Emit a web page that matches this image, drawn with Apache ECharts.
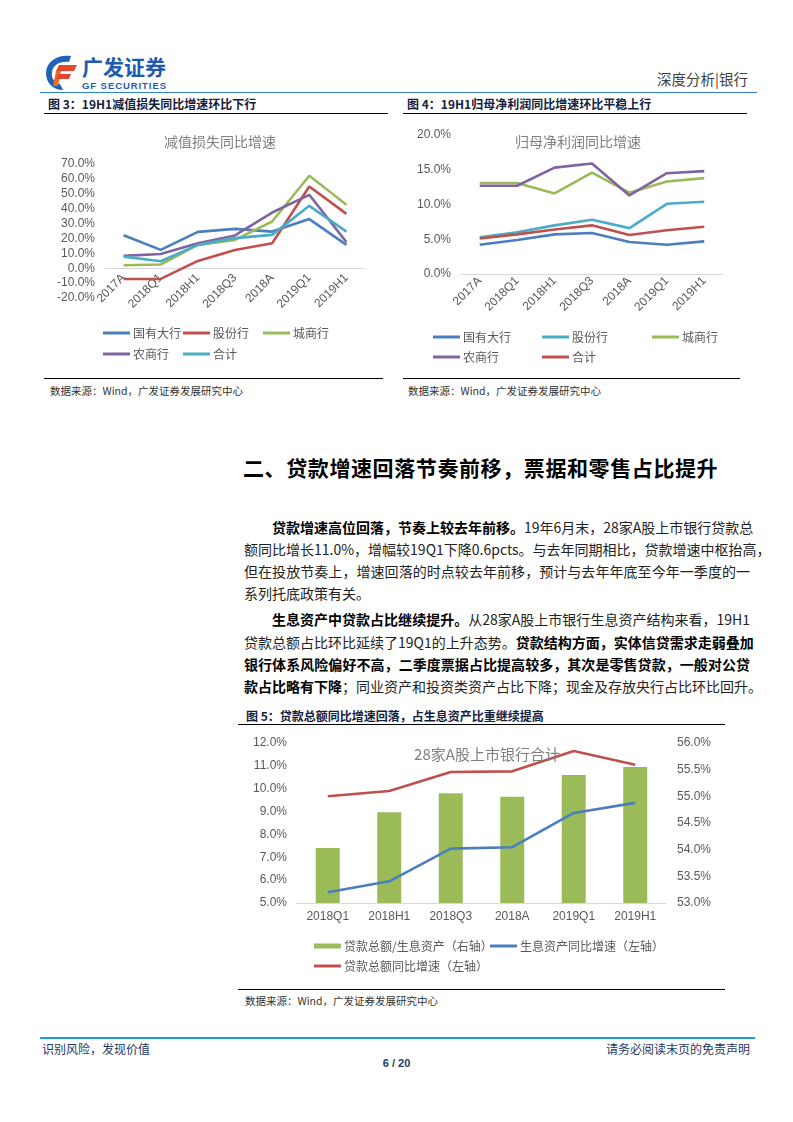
<!DOCTYPE html>
<html>
<head>
<meta charset="utf-8">
<script src="https://cdn.jsdelivr.net/npm/echarts@6.0.0/dist/echarts.min.js"></script>
<style>
  body { margin:0; width:793px; height:1122px; background:#fff; position:relative; font-family:"Noto Sans CJK SC", sans-serif; overflow:hidden; }
  .abs { position:absolute; }
  .hr { position:absolute; height:0; }
  .figtitle { position:absolute; font-size:12px; font-weight:bold; color:#14213d; white-space:nowrap; }
  .src { position:absolute; font-size:10.5px; color:#333; white-space:nowrap; }
  .line { position:absolute; left:244px; width:506px; font-size:14px; line-height:22px; color:#222; text-align:justify; text-align-last:justify; white-space:nowrap; }
  .line.last { text-align-last:left; }
  .line b { color:#000; }
  #chart3, #chart4, #chart5 { position:absolute; }
</style>
</head>
<body>

<!-- header -->
<svg class="abs" style="left:44px;top:53px" width="130" height="40">
  <path d="M27,3 C13,1 2,9 2,20 C2,30 9,37 19,37 L16,31 C10,29 7,25 8,19 C9,12 16,8 25,9 Z" fill="#1e63b8"/>
  <path d="M15,12 L33,12 L30,18 L12,18 Z" fill="#e8452c"/>
  <path d="M12,18 L17,18 L14,33 L9,33 Z" fill="#f06a2a"/>
  <path d="M14,21 L27,21 L25,26 L12,26 Z" fill="#e8452c"/>
  <text x="38" y="22" font-size="21" font-weight="bold" fill="#1e5bb0" font-family="Noto Sans CJK SC">广发证券</text>
  <text x="38" y="36" font-size="9.5" font-weight="bold" fill="#1e5bb0" font-family="Liberation Sans" textLength="84">GF SECURITIES</text>
</svg>
<div class="abs" style="right:45px;top:68px;font-size:14.5px;color:#404040;">深度分析|银行</div>
<div class="hr" style="left:40px;width:717px;top:92px;border-top:1.5px solid #2f84d6;"></div>

<!-- figure titles top -->
<div class="figtitle" style="left:48px;top:95px;">图 3：19H1减值损失同比增速环比下行</div>
<div class="hr" style="left:44px;width:344px;top:113px;border-top:1.5px solid #000;"></div>
<div class="figtitle" style="left:407px;top:95px;">图 4：19H1归母净利润同比增速环比平稳上行</div>
<div class="hr" style="left:403px;width:344px;top:113px;border-top:1.5px solid #000;"></div>

<div id="chart3" style="left:40px;top:120px;width:350px;height:250px;"></div>
<div id="chart4" style="left:400px;top:120px;width:360px;height:250px;"></div>

<div class="hr" style="left:44px;width:339px;top:378px;border-top:1.5px solid #000;"></div>
<div class="src" style="left:50px;top:383px;">数据来源：Wind，广发证券发展研究中心</div>
<div class="hr" style="left:403px;width:337px;top:378px;border-top:1.5px solid #000;"></div>
<div class="src" style="left:408px;top:383px;">数据来源：Wind，广发证券发展研究中心</div>

<!-- section -->
<div class="abs" style="left:243px;top:452px;font-size:21px;font-weight:bold;color:#000;letter-spacing:0.6px;white-space:nowrap;">二、贷款增速回落节奏前移，票据和零售占比提升</div>

<div class="line" style="top:516px;padding-left:28px;width:478px;"><b>贷款增速高位回落，节奏上较去年前移。</b>19年6月末，28家A股上市银行贷款总</div>
<div class="line" style="top:538px;">额同比增长11.0%，增幅较19Q1下降0.6pcts。与去年同期相比，贷款增速中枢抬高，</div>
<div class="line" style="top:560px;">但在投放节奏上，增速回落的时点较去年前移，预计与去年年底至今年一季度的一</div>
<div class="line last" style="top:582px;">系列托底政策有关。</div>

<div class="line" style="top:608px;padding-left:28px;width:478px;"><b>生息资产中贷款占比继续提升。</b>从28家A股上市银行生息资产结构来看，19H1</div>
<div class="line" style="top:631px;">贷款总额占比环比延续了19Q1的上升态势。<b>贷款结构方面，实体信贷需求走弱叠加</b></div>
<div class="line" style="top:653px;"><b>银行体系风险偏好不高，二季度票据占比提高较多，其次是零售贷款，一般对公贷</b></div>
<div class="line" style="top:675px;"><b>款占比略有下降</b>；同业资产和投资类资产占比下降；现金及存放央行占比环比回升。</div>

<div class="figtitle" style="left:246px;top:707px;">图 5：贷款总额同比增速回落，占生息资产比重继续提高</div>
<div class="hr" style="left:238px;width:487px;top:724px;border-top:1.5px solid #000;"></div>

<div id="chart5" style="left:230px;top:730px;width:530px;height:250px;"></div>

<div class="hr" style="left:238px;width:487px;top:989px;border-top:1.5px solid #000;"></div>
<div class="src" style="left:245px;top:993px;">数据来源：Wind，广发证券发展研究中心</div>

<!-- footer -->
<div class="hr" style="left:40px;width:715px;top:1037px;border-top:2px solid #1a9be0;"></div>
<div class="abs" style="left:42px;top:1040px;font-size:12px;color:#1f3864;">识别风险，发现价值</div>
<div class="abs" style="right:43px;top:1040px;font-size:12px;color:#1f3864;">请务必阅读末页的免责声明</div>
<div class="abs" style="left:0;width:793px;text-align:center;top:1057px;font-size:11px;font-weight:bold;color:#1f3864;font-family:'Liberation Sans';">6 / 20</div>

<script>
  // ---- 数据 ----
  var periods7 = ['2017A','2018Q1','2018H1','2018Q3','2018A','2019Q1','2019H1'];
  // 图3 减值损失同比增速 (%)
  var impairStateBig = [22.2, 12.3, 24.4, 26.4, 24.6, 33.0, 15.7];
  var impairJointStock = [-7.2, -7.2, 4.9, 12.3, 16.8, 54.9, 36.5];
  var impairCity = [2.0, 2.5, 15.7, 19.0, 31.4, 62.1, 42.6];
  var impairRural = [8.3, 9.6, 16.8, 22.0, 37.4, 49.3, 17.5];
  var impairTotal = [7.8, 4.7, 15.7, 20.2, 22.4, 41.9, 24.6];
  // 图4 归母净利润同比增速 (%)
  var profitStateBig = [4.2, 4.9, 5.7, 5.9, 4.6, 4.2, 4.7];
  var profitJointStock = [5.3, 6.0, 7.0, 7.8, 6.6, 10.1, 10.4];
  var profitCity = [13.1, 13.1, 11.6, 14.6, 11.7, 13.3, 13.8];
  var profitRural = [12.7, 12.7, 15.3, 15.9, 11.3, 14.5, 14.8];
  var profitTotal = [5.1, 5.7, 6.4, 7.0, 5.6, 6.3, 6.8];
  // 图5 28家A股上市银行合计
  var periods6 = ['2018Q1','2018H1','2018Q3','2018A','2019Q1','2019H1'];
  var loanShare = [54.03, 54.70, 55.06, 54.99, 55.40, 55.55];   // 贷款总额/生息资产（右轴）
  var assetGrowth = [5.47, 5.95, 7.38, 7.44, 8.94, 9.38];     // 生息资产同比增速（左轴）
  var loanGrowth = [9.67, 9.90, 10.73, 10.76, 11.65, 11.05];  // 贷款总额同比增速（左轴）

  var C_BLUE = '#4a7ebf', C_RED = '#c0504d', C_GREEN = '#9bbb59', C_PURPLE = '#8064a2', C_CYAN = '#4bacc6';
  var labelColor = '#595959';
  var cjk = 'Noto Sans CJK SC';

  function pct1(v) { return v.toFixed(1) + '%'; }

  function lineSeries(name, data, color, axisIdx) {
    return {
      name: name, type: 'line', data: data, yAxisIndex: axisIdx || 0,
      symbol: 'none', lineStyle: { color: color, width: 2.6 }, itemStyle: { color: color },
      animation: false
    };
  }

  function oneLegend(name, left, top, icon, h) {
    return {
      data: [name], left: left, top: top, icon: icon || 'rect',
      itemWidth: 27, itemHeight: h || 3, itemGap: 0,
      textStyle: { color: labelColor, fontSize: 12, fontFamily: cjk, padding: [0, 0, 0, -2] }
    };
  }

  function smallLineChart(el, title, titleX, grid, yMin, yMax, yInt, labelMargin, series, legends) {
    var c = echarts.init(el);
    c.setOption({
      animation: false,
      title: { text: title, left: titleX, top: 10, textAlign: 'center',
        textStyle: { color: '#7f7f7f', fontSize: 14, fontWeight: 'normal', fontFamily: cjk } },
      grid: grid,
      legend: legends,
      xAxis: {
        type: 'category', data: periods7, boundaryGap: true,
        axisLine: { onZero: true, lineStyle: { color: '#d9d9d9', width: 1 } },
        axisTick: { show: false },
        axisLabel: { rotate: 45, color: labelColor, fontSize: 12, fontFamily: 'Liberation Sans', margin: labelMargin, interval: 0 }
      },
      yAxis: {
        type: 'value', min: yMin, max: yMax, interval: yInt,
        axisLine: { show: false }, axisTick: { show: false }, splitLine: { show: false },
        axisLabel: { formatter: pct1, color: labelColor, fontSize: 12, fontFamily: 'Liberation Sans', margin: 10 }
      },
      series: series
    });
    return c;
  }

  smallLineChart(document.getElementById('chart3'), '减值损失同比增速', 175,
    { left: 65, right: 25, top: 44, height: 134 }, -20, 70, 10, -22,
    [
      lineSeries('国有大行', impairStateBig, C_BLUE),
      lineSeries('股份行', impairJointStock, C_RED),
      lineSeries('城商行', impairCity, C_GREEN),
      lineSeries('农商行', impairRural, C_PURPLE),
      lineSeries('合计', impairTotal, C_CYAN)
    ],
    [
      oneLegend('国有大行', 58, 202), oneLegend('股份行', 138, 202), oneLegend('城商行', 218, 202),
      oneLegend('农商行', 58, 223), oneLegend('合计', 138, 223)
    ]);

  smallLineChart(document.getElementById('chart4'), '归母净利润同比增速', 173,
    { left: 61, right: 37, top: 15, height: 139 }, 0, 20, 5, 5,
    [
      lineSeries('国有大行', profitStateBig, C_BLUE),
      lineSeries('股份行', profitJointStock, C_CYAN),
      lineSeries('城商行', profitCity, C_GREEN),
      lineSeries('农商行', profitRural, C_PURPLE),
      lineSeries('合计', profitTotal, C_RED)
    ],
    [
      oneLegend('国有大行', 28, 206), oneLegend('股份行', 137, 206), oneLegend('城商行', 247, 206),
      oneLegend('农商行', 28, 226), oneLegend('合计', 137, 226)
    ]);

  var chart5 = echarts.init(document.getElementById('chart5'));
  chart5.setOption({
    animation: false,
    title: { text: '28家A股上市银行合计', left: 252, top: 12, textAlign: 'center',
      textStyle: { color: '#7f7f7f', fontSize: 15, fontWeight: 'normal', fontFamily: cjk } },
    grid: { left: 67, right: 94, top: 13, height: 160 },
    legend: [
      oneLegend('贷款总额/生息资产（右轴）', 79, 205, 'rect', 5),
      oneLegend('生息资产同比增速（左轴）', 255, 205),
      oneLegend('贷款总额同比增速（左轴）', 79, 225)
    ],
    xAxis: {
      type: 'category', data: periods6,
      axisLine: { lineStyle: { color: '#d9d9d9' } }, axisTick: { show: false },
      axisLabel: { color: labelColor, fontSize: 12, fontFamily: 'Liberation Sans', margin: 8 }
    },
    yAxis: [
      { type: 'value', min: 5, max: 12, interval: 1, position: 'left',
        axisLine: { show: false }, axisTick: { show: false }, splitLine: { show: false },
        axisLabel: { formatter: pct1, color: labelColor, fontSize: 12, fontFamily: 'Liberation Sans', margin: 10 } },
      { type: 'value', min: 53, max: 56, interval: 0.5, position: 'right',
        axisLine: { show: false }, axisTick: { show: false }, splitLine: { show: false },
        axisLabel: { formatter: pct1, color: labelColor, fontSize: 12, fontFamily: 'Liberation Sans', margin: 11 } }
    ],
    series: [
      { name: '贷款总额/生息资产（右轴）', type: 'bar', yAxisIndex: 1, data: loanShare, barWidth: 24,
        itemStyle: { color: C_GREEN } },
      lineSeries('生息资产同比增速（左轴）', assetGrowth, C_BLUE),
      lineSeries('贷款总额同比增速（左轴）', loanGrowth, C_RED)
    ]
  });
</script>
</body>
</html>
